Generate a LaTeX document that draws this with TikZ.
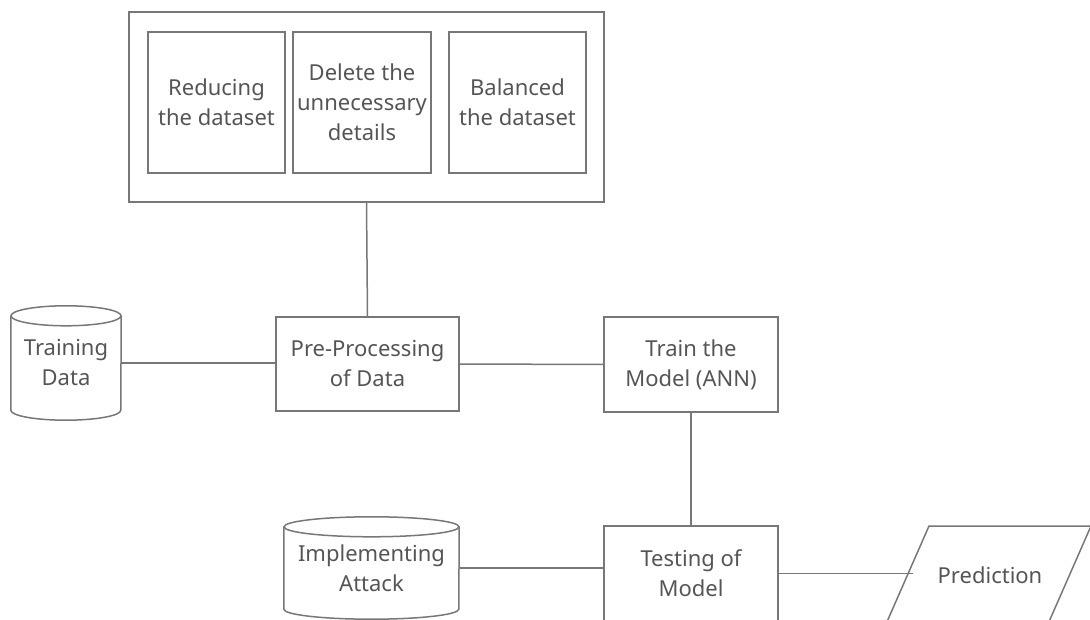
\documentclass[tikz,border=0pt]{standalone}
\usepackage{fontspec}
\setmainfont{Noto Sans}
\definecolor{lc}{HTML}{777777}
\definecolor{tc}{HTML}{555555}
\begin{document}
\begin{tikzpicture}[x=1pt,y=-1pt,
  txt/.style={text=tc, align=center, font=\fontsize{22}{30}\selectfont, inner sep=0pt},
  box/.style={txt, draw=lc, line width=1.5pt},
  conn/.style={draw=lc, line width=1.5pt},
  shp/.style={draw=lc, line width=1.5pt}]
\useasboundingbox (0,0) rectangle (1090,620);
\clip (0,0) rectangle (1090,620);
% top group
\node[box, minimum width=475pt, minimum height=190pt] (outer) at (366.5,107) {};
\node[box, minimum width=137pt, minimum height=141pt] (r1) at (216.5,102.5) {Reducing\\the dataset};
\node[box, minimum width=138pt, minimum height=141pt] (r2) at (362,102.5) {Delete the\\unnecessary\\details};
\node[box, minimum width=137pt, minimum height=141pt] (r3) at (517.5,102.5) {Balanced\\the dataset};
% process boxes
\node[box, minimum width=183pt, minimum height=94pt] (pre) at (367.5,364) {Pre-Processing\\of Data};
\node[box, minimum width=174pt, minimum height=95pt] (train) at (691,364.5) {Train the\\Model (ANN)};
\node[box, minimum width=174pt, minimum height=95pt] (test) at (691,573.5) {Testing of\\Model};
% cylinders
\node[txt, minimum width=110pt, minimum height=94pt] (tr) at (66,363) {Training\\Data};
\draw[shp] (tr.north) ellipse[x radius=55pt, y radius=10pt];
\draw[shp] (tr.north west) -- (tr.south west) arc[start angle=180, end angle=360, x radius=55pt, y radius=10pt] -- (tr.north east);
\node[txt, minimum width=175pt, minimum height=82pt] (im) at (371.5,568) {Implementing\\Attack};
\draw[shp] (im.north) ellipse[x radius=87.5pt, y radius=10pt];
\draw[shp] (im.north west) -- (im.south west) arc[start angle=180, end angle=360, x radius=87.5pt, y radius=10pt] -- (im.north east);
% prediction
\node[txt] (pred) at (990,575) {Prediction};
\draw[shp] (886,624) -- (929,526) -- (1091,526) -- (1048,624) -- cycle;
\coordinate (pin) at (913,575);
% connectors
\draw[conn] (outer.south) -- (pre.north);
\draw[conn] (tr.east) -- (tr.east -| pre.west);
\draw[conn] (pre.east) -- (train.west);
\draw[conn] (train.south) -- (test.north);
\draw[conn] (im.east) -- (im.east -| test.west);
\draw[conn] (test.east) -- (test.east -| pin);
\end{tikzpicture}
\end{document}
